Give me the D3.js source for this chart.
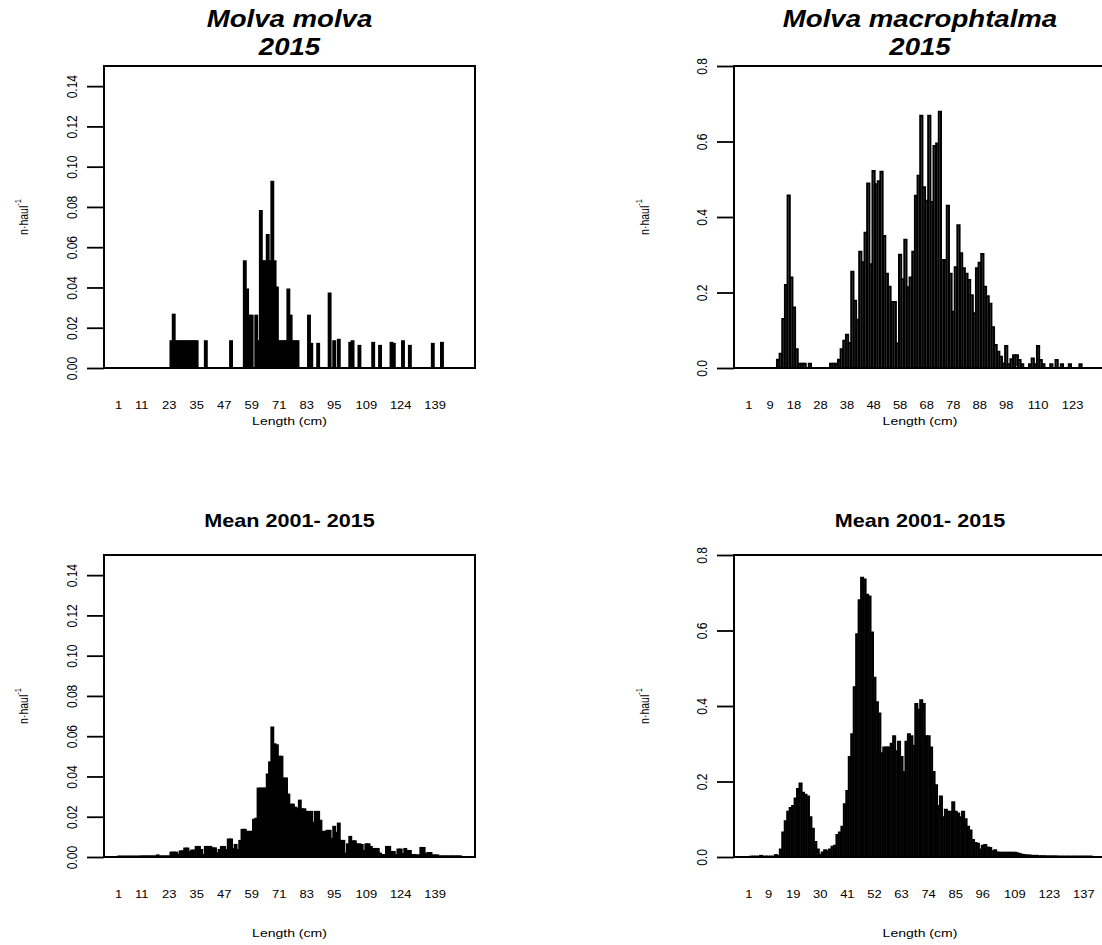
<!DOCTYPE html>
<html>
<head>
<meta charset="utf-8">
<script src="https://cdn.jsdelivr.net/npm/d3@7/dist/d3.min.js"></script>
<style>
  body { margin: 0; background: #fff; }
  svg { display: block; font-family: "Liberation Sans", Arial, sans-serif; }
</style>
</head>
<body>
<svg id="chart" width="1102" height="945"></svg>
<script>
// n.haul-1 by length class (cm), one value per class starting at 1 cm
const molva2015 = [
  0, 0, 0, 0, 0, 0, 0, 0, 0, 0,
  0, 0, 0, 0, 0, 0, 0, 0, 0, 0,
  0, 0, 0, 0.0133, 0.0265, 0.0133, 0.0133, 0.0133, 0.0133, 0.0133,
  0.0133, 0.0133, 0.0133, 0.0133, 0.0133, 0, 0, 0, 0.0133, 0,
  0, 0, 0, 0, 0, 0, 0, 0, 0, 0.0133,
  0, 0, 0, 0, 0, 0.053, 0.039, 0.026, 0.026, 0,
  0.026, 0.0133, 0.078, 0.053, 0.053, 0.066, 0.053, 0.0925, 0.053, 0.040,
  0.0133, 0.0133, 0.0133, 0.0133, 0.039, 0.026, 0.0133, 0.0133, 0.0133, 0,
  0, 0, 0, 0.026, 0.012, 0, 0, 0.012, 0, 0,
  0, 0, 0.037, 0, 0.0133, 0, 0.014, 0, 0, 0,
  0, 0.0125, 0.0133, 0, 0, 0.011, 0, 0, 0, 0,
  0, 0.0125, 0, 0, 0.011, 0, 0, 0, 0, 0.0125,
  0.012, 0, 0, 0, 0.0133, 0, 0, 0.011, 0, 0,
  0, 0, 0, 0, 0, 0, 0, 0.012, 0, 0,
  0, 0.0125, 0, 0, 0, 0, 0, 0, 0, 0
];

const molvaMean = [
  0.0002, 0.0002, 0.0002, 0.0002, 0.0002, 0.0002, 0.0002, 0.0002, 0.0002, 0.0002,
  0.0003, 0.0003, 0.0003, 0.0003, 0.0003, 0.0003, 0.0003, 0.0008, 0.0003, 0.0003,
  0.0003, 0.0003, 0.0003, 0.0022, 0.0022, 0.0022, 0.0012, 0.0028, 0.0028, 0.0042,
  0.0042, 0.0025, 0.0032, 0.0032, 0.005, 0.005, 0.0035, 0.001, 0.005, 0.005,
  0.005, 0.0043, 0.0043, 0.0018, 0.0035, 0.005, 0.005, 0.0035, 0.0087, 0.0087,
  0.004, 0.006, 0.0035, 0.008, 0.0135, 0.0135, 0.0125, 0.0125, 0.0125, 0.0185,
  0.019, 0.034, 0.034, 0.034, 0.034, 0.041, 0.047, 0.0643, 0.056, 0.0555,
  0.0498, 0.0498, 0.039, 0.039, 0.031, 0.026, 0.026, 0.0245, 0.024, 0.028,
  0.0237, 0.0237, 0.0224, 0.0224, 0.0224, 0.017, 0.0224, 0.0224, 0.018, 0.0125,
  0.0125, 0.013, 0.013, 0.009, 0.015, 0.012, 0.0166, 0.008, 0.008, 0.0017,
  0.0063, 0.010, 0.0078, 0.0078, 0.0063, 0.0063, 0.006, 0.003, 0.0063, 0.0063,
  0.005, 0.004, 0.004, 0.004, 0.0017, 0.001, 0.001, 0.005, 0.005, 0.0025,
  0.0025, 0.001, 0.0037, 0.0037, 0.0015, 0.004, 0.003, 0.003, 0.001, 0.001,
  0.0008, 0.0008, 0.0045, 0.0045, 0.0015, 0.002, 0.002, 0.0008, 0.0008, 0.0008,
  0.0003, 0.0003, 0.0003, 0.0003, 0.0003, 0.0003, 0.0003, 0.0003, 0.0003, 0.0003
];

const macro2015 = [
  0, 0, 0, 0, 0, 0, 0, 0, 0, 0,
  0, 0.022, 0.038, 0.13, 0.22, 0.457, 0.24, 0.16, 0.05, 0.011,
  0.011, 0.011, 0, 0.011, 0, 0, 0, 0, 0, 0,
  0, 0.011, 0.011, 0.011, 0.022, 0.05, 0.072, 0.088, 0.066, 0.255,
  0.178, 0.128, 0.308, 0.28, 0.358, 0.489, 0.275, 0.522, 0.487, 0.495,
  0.52, 0.35, 0.25, 0.215, 0.175, 0.175, 0.065, 0.30, 0.235, 0.34,
  0.214, 0.24, 0.308, 0.456, 0.509, 0.668, 0.479, 0.443, 0.668, 0.44,
  0.588, 0.595, 0.679, 0.286, 0.286, 0.43, 0.25, 0.149, 0.267, 0.378,
  0.304, 0.264, 0.25, 0.233, 0.193, 0.145, 0.264, 0.279, 0.302, 0.215,
  0.19, 0.17, 0.108, 0.061, 0.043, 0.03, 0.012, 0.058, 0.01, 0.023,
  0.034, 0.034, 0.021, 0.01, 0, 0, 0.01, 0.025, 0.01, 0.058,
  0.021, 0.01, 0, 0, 0.01, 0, 0.021, 0, 0.01, 0,
  0, 0.01, 0, 0, 0, 0.01, 0, 0, 0, 0
];

const macroMean = [
  0, 0.001, 0.001, 0.001, 0.001, 0.003, 0.001, 0.001, 0.001, 0.001,
  0.001, 0.005, 0.003, 0.02, 0.065, 0.095, 0.12, 0.13, 0.135, 0.155,
  0.18, 0.195, 0.17, 0.165, 0.16, 0.105, 0.075, 0.04, 0.02, 0.005,
  0.012, 0.018, 0.015, 0.02, 0.027, 0.03, 0.058, 0.065, 0.08, 0.14,
  0.175, 0.265, 0.325, 0.45, 0.59, 0.68, 0.74, 0.735, 0.695, 0.69,
  0.595, 0.475, 0.41, 0.38, 0.275, 0.29, 0.29, 0.29, 0.30, 0.32,
  0.28, 0.305, 0.265, 0.225, 0.305, 0.325, 0.32, 0.295, 0.405, 0.39,
  0.415, 0.405, 0.32, 0.32, 0.29, 0.225, 0.19, 0.135, 0.16, 0.105,
  0.125, 0.12, 0.12, 0.145, 0.12, 0.115, 0.105, 0.12, 0.1, 0.08,
  0.07, 0.045, 0.037, 0.035, 0.02, 0.03, 0.032, 0.025, 0.024, 0.015,
  0.018, 0.012, 0.011, 0.011, 0.011, 0.011, 0.011, 0.011, 0.011, 0.01,
  0.008, 0.006, 0.005, 0.004, 0.004, 0.003, 0.003, 0.003, 0.002, 0.002,
  0.002, 0.0015, 0.0015, 0.0015, 0.0015, 0.0015, 0.001, 0.001, 0.001, 0.001,
  0.001, 0.001, 0.001, 0.001, 0.001, 0.001, 0.001, 0.001, 0.001, 0.001
];

// length labels that R managed to print under each plot
const xLabelsMolva = [1, 11, 23, 35, 47, 59, 71, 83, 95, 109, 124, 139];
const xLabelsMacro2015 = [1, 9, 18, 28, 38, 48, 58, 68, 78, 88, 98, 110, 123];
const xLabelsMacroMean = [1, 9, 19, 30, 41, 52, 63, 74, 85, 96, 109, 123, 137];

const yTicksMolva = [0, 0.02, 0.04, 0.06, 0.08, 0.10, 0.12, 0.14];
const yTicksMacro = [0, 0.2, 0.4, 0.6, 0.8];

const titleMolva = ["Molva molva", "2015"];
const titleMacro = ["Molva macrophtalma", "2015"];
const titleMean = ["Mean 2001- 2015"];

const svg = d3.select("#chart");
const SX = 1.2;  // the picture is stretched sideways, text too

// xlabY: where "Length (cm)" sits under each plot
const panels = [
  { values: molva2015, ymax: 0.15, yticks: yTicksMolva, yfmt: ".2f", xlabels: xLabelsMolva,
    left: 104, right: 475, top: 66, bottom: 368, xlabY: 425, title: titleMolva, italic: true },
  { values: macro2015, ymax: 0.8, yticks: yTicksMacro, yfmt: ".1f", xlabels: xLabelsMacro2015,
    left: 734, right: 1106, top: 66, bottom: 368, xlabY: 425, title: titleMacro, italic: true },
  { values: molvaMean, ymax: 0.15, yticks: yTicksMolva, yfmt: ".2f", xlabels: xLabelsMolva,
    left: 104, right: 475, top: 555, bottom: 857, xlabY: 937, title: titleMean, italic: false },
  { values: macroMean, ymax: 0.8, yticks: yTicksMacro, yfmt: ".1f", xlabels: xLabelsMacroMean,
    left: 734, right: 1106, top: 555, bottom: 857, xlabY: 937, title: titleMean, italic: false }
];

function stretchedText(g, x, y, txt) {
  return g.append("text")
    .attr("transform", `translate(${x},${y}) scale(${SX},1)`)
    .attr("text-anchor", "middle")
    .text(txt);
}

panels.forEach(p => {
  const g = svg.append("g");
  const n = p.values.length;
  // barplot style: width 1, space 0.2, xlim widened by 4%
  const span = 1.2 * n - 0.2;
  const x = d3.scaleLinear()
    .domain([0.2 - 0.04 * span, 1.2 * n + 0.04 * span])
    .range([p.left, p.right]);
  const y = d3.scaleLinear().domain([0, p.ymax]).range([p.bottom, p.top]);

  // bars (paths so that empty classes still leave a line on the base)
  g.selectAll("path.bar")
    .data(p.values)
    .enter()
    .append("path")
    .attr("class", "bar")
    .attr("d", (d, i) => {
      const x0 = x(0.2 + 1.2 * i), x1 = x(1.2 * (i + 1));
      return `M${x0},${y(0)}V${y(d)}H${x1}V${y(0)}Z`;
    })
    .attr("fill", "#bebebe")
    .attr("stroke", "#000")
    .attr("stroke-width", 2);

  // y axis
  const yAxis = g.append("g")
    .attr("transform", `translate(${p.left},0)`)
    .call(d3.axisLeft(y).tickValues(p.yticks).tickSize(17).tickSizeOuter(0)
      .tickFormat(d3.format(p.yfmt)));
  yAxis.select(".domain").remove();
  yAxis.selectAll("line").attr("stroke-width", 1.8);
  yAxis.selectAll("text")
    .attr("x", null).attr("dy", null)
    .attr("text-anchor", "middle")
    .attr("font-size", 12)
    .attr("fill", "#000")
    .attr("font-family", "Liberation Sans, Arial, sans-serif")
    .attr("transform", "translate(-27,0) scale(1.15,1) rotate(-90)");

  // box
  g.append("rect")
    .attr("x", p.left).attr("y", p.top)
    .attr("width", p.right - p.left).attr("height", p.bottom - p.top)
    .attr("fill", "none").attr("stroke", "#000").attr("stroke-width", 2);

  // length labels under the bars
  p.xlabels.forEach(v => {
    stretchedText(g, x(1.2 * (v - 1) + 0.7), p.bottom + 41, v)
      .attr("font-size", 10.8);
  });

  const cx = (p.left + p.right) / 2;
  stretchedText(g, cx, p.xlabY, "Length (cm)").attr("font-size", 11.7);

  // y label n.haul^-1
  const lx = p.left < 300 ? 28 : 649;
  const ly = (p.top + p.bottom) / 2;
  const yl = g.append("text")
    .attr("transform", `translate(${lx},${ly}) scale(1.15,1) rotate(-90)`)
    .attr("text-anchor", "middle")
    .attr("font-size", 10.5);
  yl.append("tspan").text("n·haul");
  yl.append("tspan").attr("dy", -6).attr("font-size", 7.5).text("-1");

  // title
  if (p.italic) {
    p.title.forEach((t, i) => {
      stretchedText(g, cx, 27 + i * 28, t)
        .attr("font-size", 23).attr("font-weight", "bold").attr("font-style", "italic");
    });
  } else {
    stretchedText(g, cx, p.top - 28, p.title[0])
      .attr("font-size", 18).attr("font-weight", "bold");
  }
});
</script>
</body>
</html>
